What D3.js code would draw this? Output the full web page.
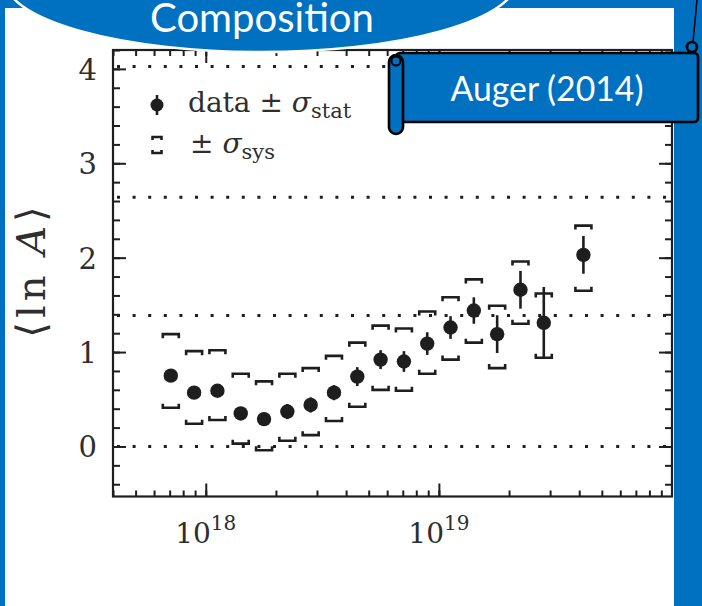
<!DOCTYPE html>
<html><head><meta charset="utf-8">
<script src="https://cdn.jsdelivr.net/npm/d3@7"></script>
<style>body{margin:0;background:#0070C0;} svg{display:block}</style>
</head><body><svg id="c" width="702" height="606"></svg>
<script>
// ---- data ----
const lgE     = [17.85,17.95,18.05,18.15,18.25,18.35,18.45,18.55,18.65,18.75,18.85,18.95,19.05,19.15,19.25,19.35,19.45,19.62];
const lnA     = [0.75,0.57,0.59,0.35,0.29,0.37,0.44,0.57,0.74,0.92,0.90,1.09,1.26,1.44,1.19,1.66,1.31,2.03];
const statErr = [0.05,0.05,0.05,0.05,0.05,0.08,0.08,0.08,0.10,0.10,0.11,0.12,0.12,0.14,0.20,0.20,0.38,0.20];
const sysHi   = [1.19,1.01,1.02,0.77,0.69,0.77,0.83,0.96,1.10,1.28,1.25,1.43,1.58,1.77,1.49,1.96,1.62,2.34];
const sysLo   = [0.41,0.24,0.28,0.03,-0.04,0.06,0.12,0.27,0.42,0.60,0.59,0.77,0.92,1.10,0.83,1.30,0.94,1.65];
const refMassNumbers = [1,4,14,56];           // p, He, N, Fe  -> dotted lines at ln A
const yTickLabels = [0,1,2,3,4];
const xMajorExps  = [18,19];
const titleText = "Composition";
const sourceText = "Auger (2014)";

const BLUE = "#0070C0", INK = "#1e1e1e", TXT = "#2e2e2e";
const svg = d3.select("#c");

// white picture area
svg.append("rect").attr("x",5).attr("y",8).attr("width",669).attr("height",600).attr("fill","#fff");

const x = d3.scaleLog().domain([4e17, 1e20]).range([113, 672]);
const y = d3.scaleLinear().domain([-0.53, 4.2]).range([496.5, 50]);
const [X0,X1] = x.range(), [Y0,Y1] = y.range();

// tick value sets
const xMinor = [];
for (let e = 17; e <= 19; e++) for (let m = 1; m <= 9; m++) { const v = m*Math.pow(10,e); if (v >= 4e17 && v <= 1e20) xMinor.push(v); }
const xMajor = xMajorExps.map(e => Math.pow(10,e));
const yMinor = d3.range(-4, 43, 2).map(v => v/10);

function styleAxis(g){ g.select(".domain").remove(); g.selectAll("line").attr("stroke",INK).attr("stroke-width",2); g.selectAll("text").remove(); }
const ax = svg.append("g");
ax.append("g").attr("transform",`translate(0,${Y0})`).call(d3.axisBottom(x).tickValues(xMinor).tickSize(-6)).call(styleAxis);
ax.append("g").attr("transform",`translate(0,${Y0})`).call(d3.axisBottom(x).tickValues(xMajor).tickSize(-13)).call(styleAxis);
ax.append("g").attr("transform",`translate(0,${Y1})`).call(d3.axisTop(x).tickValues(xMinor).tickSize(-6)).call(styleAxis);
ax.append("g").attr("transform",`translate(0,${Y1})`).call(d3.axisTop(x).tickValues(xMajor).tickSize(-13)).call(styleAxis);
ax.append("g").attr("transform",`translate(${X0},0)`).call(d3.axisLeft(y).tickValues(yMinor).tickSize(-7)).call(styleAxis);
ax.append("g").attr("transform",`translate(${X0},0)`).call(d3.axisLeft(y).tickValues(yTickLabels).tickSize(-13)).call(styleAxis);
ax.append("g").attr("transform",`translate(${X1},0)`).call(d3.axisRight(y).tickValues(yMinor).tickSize(-7)).call(styleAxis);
ax.append("g").attr("transform",`translate(${X1},0)`).call(d3.axisRight(y).tickValues(yTickLabels).tickSize(-13)).call(styleAxis);

// frame
svg.append("rect").attr("x",X0).attr("y",Y1).attr("width",X1-X0).attr("height",Y0-Y1)
  .attr("fill","none").attr("stroke",INK).attr("stroke-width",2.2);

// dotted reference lines
svg.append("g").selectAll("line").data(refMassNumbers).join("line")
  .attr("x1",X0+4).attr("x2",X1).attr("y1",d=>y(Math.log(d))).attr("y2",d=>y(Math.log(d)))
  .attr("stroke",INK).attr("stroke-width",3).attr("stroke-dasharray","3,12.6");

// y tick labels
const serif = "'DejaVu Serif', 'Liberation Serif', serif";
svg.append("g").selectAll("text").data(yTickLabels).join("text")
  .attr("x",97).attr("y",d=>y(d)+11).attr("text-anchor","end")
  .attr("font-family",serif).attr("font-size",29).attr("fill",TXT).text(d=>d);

// x tick labels 10^n
const xl = svg.append("g").selectAll("text").data(xMajorExps).join("text")
  .attr("x",d=>x(Math.pow(10,d))).attr("y",543).attr("text-anchor","middle")
  .attr("font-family",serif).attr("font-size",28).attr("fill",TXT);
xl.append("tspan").text("10");
xl.append("tspan").attr("dy",-13).attr("font-size",20).text(d=>d);

// y axis title
const yt = svg.append("text").attr("transform","translate(45,270) rotate(-90)").attr("text-anchor","middle")
  .attr("font-family",serif).attr("font-size",40).attr("letter-spacing",4).attr("fill",TXT);
yt.append("tspan").text("\u27E8ln ");
yt.append("tspan").attr("font-style","italic").text("A");
yt.append("tspan").text("\u27E9");

// data
const pts = lgE.map((e,i)=>({x:x(Math.pow(10,e)), v:lnA[i], s:statErr[i], hi:sysHi[i], lo:sysLo[i]}));
const g = svg.append("g");
const bw = 8, leg = 4;
g.selectAll("path.top").data(pts).join("path").attr("class","top")
  .attr("d",d=>`M${d.x-bw},${y(d.hi)+leg}V${y(d.hi)}H${d.x+bw}V${y(d.hi)+leg}`)
  .attr("fill","none").attr("stroke",INK).attr("stroke-width",2.6);
g.selectAll("path.bot").data(pts).join("path").attr("class","bot")
  .attr("d",d=>`M${d.x-bw},${y(d.lo)-leg}V${y(d.lo)}H${d.x+bw}V${y(d.lo)-leg}`)
  .attr("fill","none").attr("stroke",INK).attr("stroke-width",2.6);
g.selectAll("line.stat").data(pts).join("line").attr("class","stat")
  .attr("x1",d=>d.x).attr("x2",d=>d.x).attr("y1",d=>y(d.v+d.s)).attr("y2",d=>y(d.v-d.s))
  .attr("stroke",INK).attr("stroke-width",2.6);
g.selectAll("circle").data(pts).join("circle")
  .attr("cx",d=>d.x).attr("cy",d=>y(d.v)).attr("r",7.2).attr("fill",INK);

// legend
const lg = svg.append("g");
lg.append("line").attr("x1",157).attr("x2",157).attr("y1",95).attr("y2",115).attr("stroke",INK).attr("stroke-width",2.6);
lg.append("circle").attr("cx",157).attr("cy",105).attr("r",6.5).attr("fill",INK);
lg.append("path").attr("d","M152.5,140V137H161.5V140").attr("fill","none").attr("stroke",INK).attr("stroke-width",2.6);
lg.append("path").attr("d","M152.5,150V153H161.5V150").attr("fill","none").attr("stroke",INK).attr("stroke-width",2.6);
const t1 = lg.append("text").attr("x",188).attr("y",112).attr("font-family",serif).attr("font-size",28).attr("fill",TXT);
t1.append("tspan").text("data \u00B1 ");
t1.append("tspan").attr("font-style","italic").text("\u03C3");
t1.append("tspan").attr("font-size",21).attr("dy",6).text("stat");
const t2 = lg.append("text").attr("x",190).attr("y",153).attr("font-family",serif).attr("font-size",28).attr("fill",TXT);
t2.append("tspan").text("\u00B1 ");
t2.append("tspan").attr("font-style","italic").text("\u03C3");
t2.append("tspan").attr("font-size",21).attr("dy",6).text("sys");

// "Composition" banner
svg.append("ellipse").attr("cx",261).attr("cy",-20).attr("rx",256).attr("ry",72)
  .attr("fill",BLUE).attr("stroke","#fff").attr("stroke-width",2.5);
const sans = "Lato, 'Open Sans', sans-serif";
function fit(sel, w){ const cur = sel.node().getComputedTextLength(); sel.attr("font-size", (+sel.attr("font-size"))*w/cur); }
const ct = svg.append("text").attr("x",262).attr("y",32).attr("text-anchor","middle")
  .attr("font-family",sans).attr("font-size",34).attr("fill","#fff").text(titleText);
fit(ct, 224);

// "Auger (2014)" scroll
const sc = svg.append("g").attr("stroke","#000").attr("stroke-width",2.6);
sc.append("line").attr("x1",697).attr("y1",0).attr("x2",693).attr("y2",42).attr("stroke-width",1.5);
sc.append("circle").attr("cx",692).attr("cy",47).attr("r",5).attr("fill",BLUE);
sc.append("rect").attr("x",396).attr("y",53).attr("width",302).attr("height",69).attr("rx",4).attr("fill",BLUE);
sc.append("rect").attr("x",389).attr("y",55).attr("width",14).attr("height",79).attr("rx",7).attr("fill",BLUE);
sc.append("circle").attr("cx",396).attr("cy",61).attr("r",4.5).attr("fill",BLUE).attr("stroke-width",2);
const at = svg.append("text").attr("x",547).attr("y",101).attr("text-anchor","middle")
  .attr("font-family",sans).attr("font-size",30).attr("fill","#fff").text(sourceText);
fit(at, 193);
</script></body></html>
